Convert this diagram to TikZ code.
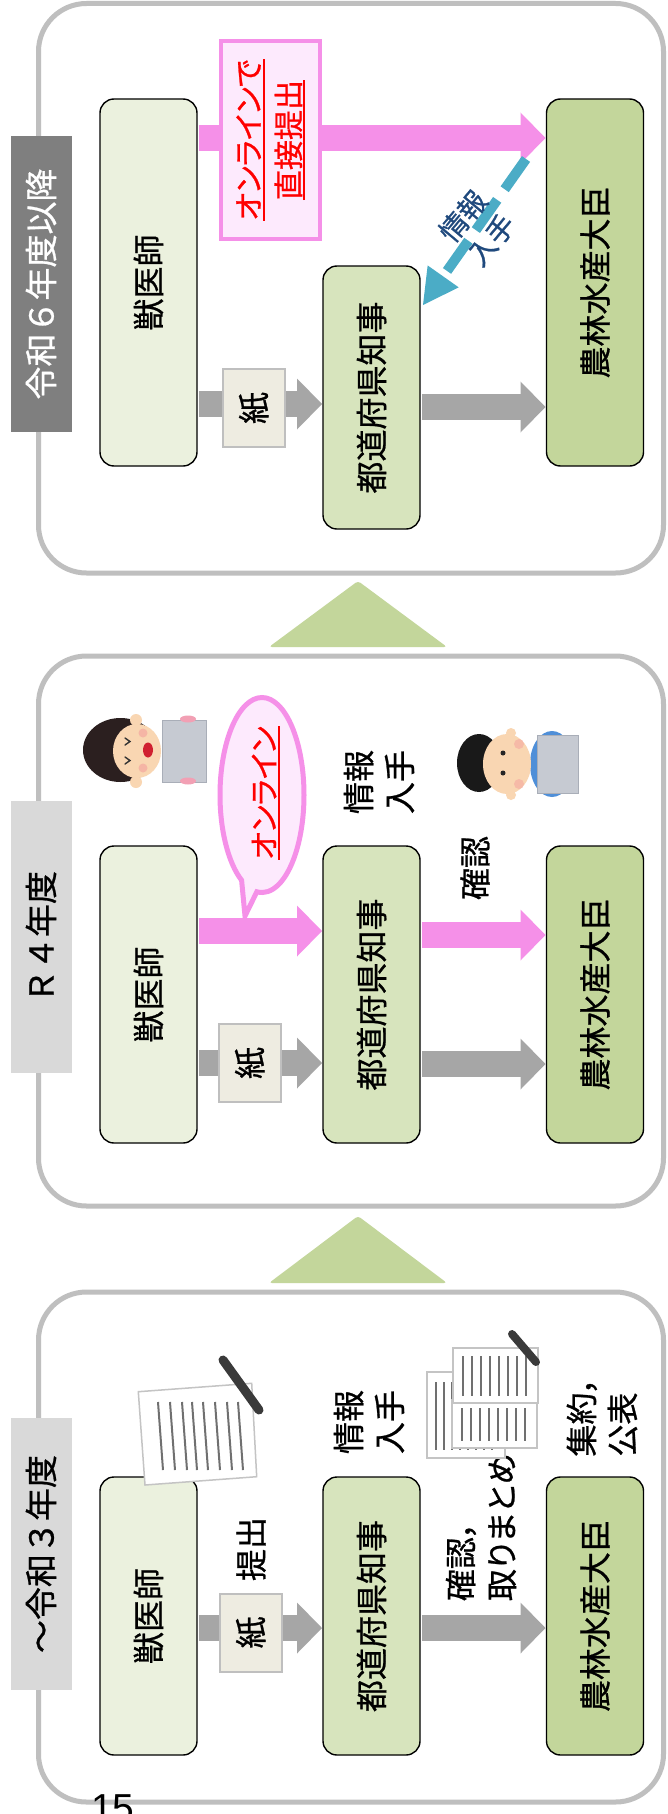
\documentclass[tikz,border=0pt]{standalone}
\usepackage{graphicx}
\usepackage{fontspec}
\setmainfont{Noto Sans CJK JP}[RawFeature=+palt,FakeBold=0.8]
\newfontfamily\tabfont{Noto Sans CJK JP}[FakeBold=0.8]
\newfontfamily\numfont{Liberation Sans}
\usetikzlibrary{arrows.meta,shapes.callouts,calc}

\definecolor{panelline}{HTML}{BFBFBF}
\definecolor{tabdark}{HTML}{7F7F7F}
\definecolor{tablight}{HTML}{D9D9D9}
\definecolor{vetfill}{HTML}{EBF1DE}
\definecolor{preffill}{HTML}{D7E4BD}
\definecolor{minfill}{HTML}{C3D69B}
\definecolor{flowgray}{HTML}{A6A6A6}
\definecolor{flowpink}{HTML}{F590E8}
\definecolor{paperfill}{HTML}{EEECE1}
\definecolor{paperline}{HTML}{BFBFBF}
\definecolor{notefill}{HTML}{FDEAFD}
\definecolor{infoblue}{HTML}{4BACC6}
\definecolor{infotext}{HTML}{1F497D}
\definecolor{skin}{HTML}{F9D6B2}
\definecolor{blush}{HTML}{F4A8A0}
\definecolor{hairbrown}{HTML}{2B1F1F}
\definecolor{mouthred}{HTML}{D02030}
\definecolor{laptop}{HTML}{C6CAD2}
\definecolor{laptopedge}{HTML}{A9AEB8}
\definecolor{handpink}{HTML}{F2A0B4}
\definecolor{shirtblue}{HTML}{4F8FD8}
\definecolor{sheetedge}{HTML}{C4C4C4}
\definecolor{sheetline}{HTML}{707070}
\definecolor{pen}{HTML}{3A3A3A}

% underline drawn as a rule below the baseline
\newcommand\redline[1]{\setbox0=\hbox{#1}\rlap{\rule[-5pt]{\wd0}{2pt}}\box0}

\begin{document}
\begin{tikzpicture}[x=1pt,y=-1pt,
  every node/.style={inner sep=0pt,outer sep=0pt},
  panel/.style={draw=panelline,line width=5pt,rounded corners=48pt,fill=white},
  tab/.style={rectangle,minimum width=61pt,font=\tabfont\fontsize{33}{40}\selectfont},
  stage/.style={draw=black,line width=1.4pt,rounded corners=14pt,minimum width=97pt,
    font=\fontsize{32}{38}\selectfont},
  vet/.style={stage,fill=vetfill},
  pref/.style={stage,fill=preffill},
  minister/.style={stage,fill=minfill},
  flow/.style={draw=flowgray,line width=26pt,
    -{Triangle[length=25pt,width=51pt,line width=0pt]},shorten <=2pt,shorten >=1pt},
  pinkflow/.style={flow,draw=flowpink},
  infoflow/.style={draw=infoblue,line width=10pt,dash pattern=on 37pt off 13pt,
    -{Triangle[length=35pt,width=38pt,line width=0pt]}},
  paperbox/.style={draw=paperline,line width=2pt,fill=paperfill,minimum width=62pt,
    minimum height=78pt,font=\fontsize{32}{38}\selectfont},
  note/.style={rotate=90,align=left,font=\fontsize{32}{41}\selectfont},
  sheet/.style={draw=sheetedge,line width=1.5pt,fill=white},
  sheetrule/.style={draw=sheetline,line width=2pt},
  uptri/.style={fill=minfill,rounded corners=3pt}
]
\useasboundingbox (0,0) rectangle (667,1814);
\clip (0,0) rectangle (667,1814);
\fill[white] (0,0) rectangle (667,1814);

% ---- three stage panels and the arrows between them
\draw[panel] (38.5,3.5) rectangle (663.5,573);
\draw[panel] (38.5,656) rectangle (663.5,1206);
\draw[panel] (38.5,1292) rectangle (663.5,1802);
\fill[uptri] (358,581) -- (447,647) -- (269,647) -- cycle;
\fill[uptri] (358,1216) -- (447,1283) -- (269,1283) -- cycle;

% ---- panel tabs
\node[tab,fill=tabdark,text=white,minimum height=296pt] (tab1) at (41,284) {\rotatebox{90}{令和６年度以降}};
\node[tab,fill=tablight,minimum height=272pt] (tab2) at (41,937) {\rotatebox{90}{Ｒ４年度}};
\node[tab,fill=tablight,minimum height=272pt] (tab3) at (41,1554) {\rotatebox{90}{～令和３年度}};

% ---- panel 1
\node[vet,minimum height=367pt] (vet1) at (148.5,282.5) {\rotatebox{90}{獣医師}};
\node[pref,minimum height=263pt] (pref1) at (371.5,397.5) {\rotatebox{90}{都道府県知事}};
\node[minister,minimum height=367pt] (min1) at (595,282.5) {\rotatebox{90}{農林水産大臣}};
\draw[pinkflow] (vet1.east |- 0,138) -- (min1.west |- 0,138);
\draw[flow] (vet1.east |- 0,404) -- (pref1.west |- 0,404);
\draw[flow] (pref1.east |- 0,407) -- (min1.west |- 0,407);
\node[paperbox] (paper1) at (254,408) {\rotatebox{90}{紙}};
\node[rotate=90,draw=flowpink,line width=4pt,fill=notefill,minimum width=198pt,
  minimum height=99pt,align=center,text=red,font=\fontsize{30}{40}\selectfont]
  (direct1) at (270.5,140) {\redline{オンラインで}\\\redline{直接提出}};
\coordinate (infoS) at (526,159);
\coordinate (infoE) at (423,305);
\draw[infoflow] (infoS) -- (infoE);
\node[rotate=50,align=center,text=infotext,font=\fontsize{28}{37}\selectfont]
  (get1) at (477,228) {情報\\入手};

% ---- panel 2
\node[vet,minimum height=297pt] (vet2) at (148.5,994.5) {\rotatebox{90}{獣医師}};
\node[pref,minimum height=297pt] (pref2) at (371.5,994.5) {\rotatebox{90}{都道府県知事}};
\node[minister,minimum height=297pt] (min2) at (595,994.5) {\rotatebox{90}{農林水産大臣}};
\draw[pinkflow] (vet2.east |- 0,931) -- (pref2.west |- 0,931);
\draw[pinkflow] (pref2.east |- 0,935) -- (min2.west |- 0,935);
\draw[flow] (vet2.east |- 0,1063) -- (pref2.west |- 0,1063);
\draw[flow] (pref2.east |- 0,1064) -- (min2.west |- 0,1064);
\node[paperbox] (paper2) at (250,1063) {\rotatebox{90}{紙}};
\coordinate (tailtip) at (245,916);
\node[ellipse callout,draw=flowpink,line width=5pt,fill=notefill,minimum width=84pt,
  minimum height=195pt,callout absolute pointer=(tailtip),callout pointer arc=22]
  (bubble) at (262,795) {};
\node[rotate=90,text=red,font=\fontsize{30}{36}\selectfont] (online2) at (266,793) {\redline{オンライン}};
\node[note] (get2) at (379,782) {情報\\入手};
\node[note] (check2) at (475,868) {確認};

% woman with a laptop
\fill[hairbrown] (120.5,750) ellipse [x radius=37.5pt,y radius=32pt];
\fill[skin] (137,751) ellipse [x radius=24pt,y radius=27pt];
\fill[skin] (136,720) circle (6pt);
\fill[skin] (136,782) circle (6pt);
\fill[blush,opacity=.7] (143,733) circle (4.5pt);
\fill[blush,opacity=.7] (143,768) circle (4.5pt);
\draw[black!80,line width=1.4pt,line cap=round] (125,738) -- (130,741.5) -- (125,745);
\draw[black!80,line width=1.4pt,line cap=round] (125,757) -- (130,760.5) -- (125,764);
\fill[mouthred] (148,750) ellipse [x radius=5pt,y radius=7.5pt];
\filldraw[fill=laptop,draw=laptopedge,line width=1pt] (162,720) rectangle (206,782);
\fill[handpink] (188,719) ellipse [x radius=8pt,y radius=3.5pt];
\fill[handpink] (188,781) ellipse [x radius=8pt,y radius=3.5pt];

% man with a laptop
\fill[shirtblue] (552,764) ellipse [x radius=22pt,y radius=33pt];
\fill[black!90] (479,763) ellipse [x radius=22pt,y radius=29pt];
\fill[skin] (507,764) ellipse [x radius=24pt,y radius=30pt];
\fill[skin] (511,733) circle (5pt);
\fill[skin] (511,795) circle (5pt);
\fill[blush,opacity=.6] (519,744) circle (5pt);
\fill[blush,opacity=.6] (519,784) circle (5pt);
\fill[black!85] (503,753) circle (2.5pt);
\fill[black!85] (503,773) circle (2.5pt);
\filldraw[fill=laptop,draw=laptopedge,line width=1pt] (537,735) rectangle (578,793);

% ---- panel 3
\node[vet,minimum height=278pt] (vet3) at (148.5,1616) {\rotatebox{90}{獣医師}};
\node[pref,minimum height=278pt] (pref3) at (371.5,1616) {\rotatebox{90}{都道府県知事}};
\node[minister,minimum height=278pt] (min3) at (595,1616) {\rotatebox{90}{農林水産大臣}};
\draw[flow] (vet3.east |- 0,1628) -- (pref3.west |- 0,1628);
\draw[flow] (pref3.east |- 0,1628) -- (min3.west |- 0,1628);
\node[paperbox] (paper3) at (251,1632.5) {\rotatebox{90}{紙}};
\node[note] (submit3) at (251,1549) {提出};
\node[note] (get3) at (369,1422) {情報\\入手};
\node[note] (sum3) at (481,1527) {確認，\\取りまとめ};
\node[note] (pub3) at (602,1416.5) {集約，\\公表};

% single sheet with a pen
\filldraw[sheet] (138.3,1391.7) -- (251.7,1383.3) -- (256.7,1476.7) -- (145,1485) -- cycle;
\foreach \x in {158,170,182,192,203,215,227,238}
  \draw[sheetrule] (\x,1402) -- ++(5,68);
\draw[pen,line width=9pt,line cap=round] (223,1360) -- (259,1410);

% stack of sheets with a pen
\filldraw[sheet] (427,1372) rectangle (505,1458);
\foreach \x in {436,444,452,460,468,476,484,492}
  \draw[sheetrule] (\x,1382) -- (\x,1450);
\filldraw[sheet] (452,1400) rectangle (537,1448);
\foreach \x in {462,471,480,489,498,507,516,525}
  \draw[sheetrule] (\x,1408) -- (\x,1441);
\filldraw[sheet] (453,1348) rectangle (538,1403);
\foreach \x in {463,472,481,490,499,508,517,526}
  \draw[sheetrule] (\x,1356) -- (\x,1396);
\draw[pen,line width=8pt,line cap=round] (512,1334) -- (536,1362);

% page number
\node[font=\numfont\fontsize{39}{39}\selectfont,anchor=base west] (pageno) at (91,1821) {15};
\end{tikzpicture}
\end{document}
